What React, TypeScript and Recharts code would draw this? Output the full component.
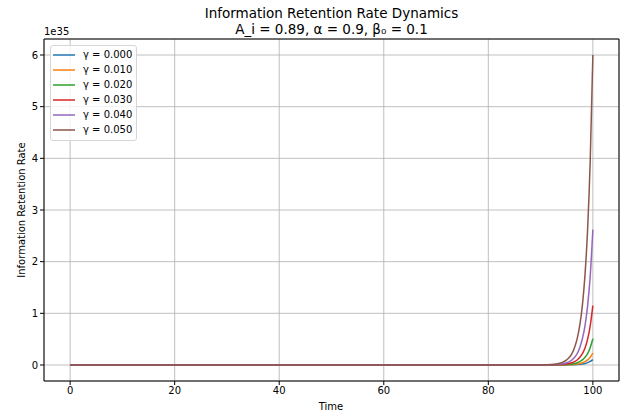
import { LineChart, Line, XAxis, YAxis, CartesianGrid, ReferenceArea } from 'recharts';

// values are in units of 1e35 (matplotlib offset text)
const times = [0, 10, 20, 30, 40, 50, 60, 70, 80, 90, 91, 92, 93, 94, 95, 96, 96.5, 97, 97.5, 98, 98.5, 99, 99.5, 100];
const gamma000 = [0, 0, 0, 0, 0, 0, 0, 0, 0, 0, 0.0001, 0.0002, 0.0004, 0.001, 0.002, 0.004, 0.006, 0.009, 0.013, 0.02, 0.03, 0.046, 0.069, 0.105];
const gamma010 = [0, 0, 0, 0, 0, 0, 0, 0, 0, 0.0001, 0.0002, 0.0004, 0.001, 0.002, 0.004, 0.008, 0.013, 0.019, 0.029, 0.044, 0.066, 0.1, 0.15, 0.23];
const gamma020 = [0, 0, 0, 0, 0, 0, 0, 0, 0, 0.0002, 0.0004, 0.001, 0.002, 0.004, 0.008, 0.019, 0.028, 0.043, 0.065, 0.098, 0.15, 0.22, 0.34, 0.51];
const gamma030 = [0, 0, 0, 0, 0, 0, 0, 0, 0, 0.0004, 0.001, 0.002, 0.004, 0.008, 0.019, 0.042, 0.064, 0.097, 0.15, 0.22, 0.33, 0.5, 0.76, 1.15];
const gamma040 = [0, 0, 0, 0, 0, 0, 0, 0, 0, 0.001, 0.002, 0.004, 0.008, 0.019, 0.043, 0.097, 0.15, 0.22, 0.34, 0.51, 0.76, 1.15, 1.73, 2.62];
const gamma050 = [0, 0, 0, 0, 0, 0, 0, 0, 0, 0.002, 0.004, 0.008, 0.019, 0.043, 0.098, 0.22, 0.34, 0.51, 0.77, 1.16, 1.75, 2.64, 3.97, 6.0];

const seriesNames = ['γ = 0.000', 'γ = 0.010', 'γ = 0.020', 'γ = 0.030', 'γ = 0.040', 'γ = 0.050'];
const seriesValues = [gamma000, gamma010, gamma020, gamma030, gamma040, gamma050];
const colors = ['#1f77b4', '#ff7f0e', '#2ca02c', '#d62728', '#9467bd', '#8c564b'];

const xTicks = [0, 20, 40, 60, 80, 100];
const yTicks = [0, 1, 2, 3, 4, 5, 6];

const data = times.map((t, i) => {
  const row: Record<string, number> = { t };
  seriesValues.forEach((vals, k) => {
    row[`s${k}`] = vals[i];
  });
  return row;
});

const font = '"DejaVu Sans", sans-serif';

function LegendBox() {
  return (
    <div
      style={{
        position: 'absolute',
        left: 50,
        top: 45,
        boxSizing: 'border-box',
        width: 87,
        height: 96,
        background: 'rgba(255,255,255,0.8)',
        border: '1px solid #d6d6d6',
        borderRadius: 3,
        padding: '1px 0 0 2px',
        fontSize: 10,
        color: '#000',
      }}
    >
      {seriesNames.map((name, i) => (
        <div key={name} style={{ display: 'flex', alignItems: 'center', height: 15 }}>
          <svg width={22} height={4} style={{ marginRight: 8 }}>
            <line x1={0} x2={22} y1={2} y2={2} stroke={colors[i]} strokeWidth={1.5} />
          </svg>
          <span>{name}</span>
        </div>
      ))}
    </div>
  );
}

export default function App() {
  return (
    <div style={{ position: 'absolute', left: 0, top: 0, width: 621, height: 414, background: '#fff', fontFamily: font }}>
      <LineChart width={621} height={414} data={data} margin={{ top: 39, right: 2, left: 0, bottom: 0 }}>
        <CartesianGrid stroke="#b0b0b0" strokeWidth={0.8} />
        <XAxis
          dataKey="t"
          type="number"
          domain={[-5, 105]}
          ticks={xTicks}
          height={33}
          tickSize={4}
          tick={{ fill: '#000', fontSize: 10, fontFamily: font }}
          stroke="#000"
          axisLine={false}
        />
        <YAxis
          type="number"
          domain={[-0.31, 6.31]}
          ticks={yTicks}
          width={44}
          tickSize={4}
          tick={{ fill: '#000', fontSize: 10, fontFamily: font }}
          stroke="#000"
          axisLine={false}
          allowDataOverflow
        />
        {seriesNames.map((name, i) => (
          <Line
            key={name}
            dataKey={`s${i}`}
            name={name}
            stroke={colors[i]}
            strokeWidth={1.5}
            dot={false}
            type="monotone"
            isAnimationActive={false}
          />
        ))}
        <ReferenceArea x1={-5} x2={105} y1={-0.31} y2={6.31} fill="none" stroke="#000" strokeWidth={1} />
      </LineChart>
      <div style={{ position: 'absolute', left: 0, width: 663, top: 5, textAlign: 'center', fontSize: 13.5, lineHeight: '16px', color: '#000' }}>
        <div>Information Retention Rate Dynamics</div>
        <div>A_i = 0.89, α = 0.9, β₀ = 0.1</div>
      </div>
      <div style={{ position: 'absolute', left: 44, top: 26, fontSize: 10, color: '#000' }}>1e35</div>
      <div
        style={{
          position: 'absolute',
          left: 21,
          top: 210,
          transform: 'translate(-50%, -50%) rotate(-90deg)',
          whiteSpace: 'nowrap',
          fontSize: 10,
          color: '#000',
        }}
      >
        Information Retention Rate
      </div>
      <div style={{ position: 'absolute', left: 331, top: 401, transform: 'translateX(-50%)', fontSize: 10, color: '#000' }}>
        Time
      </div>
      <LegendBox />
    </div>
  );
}
